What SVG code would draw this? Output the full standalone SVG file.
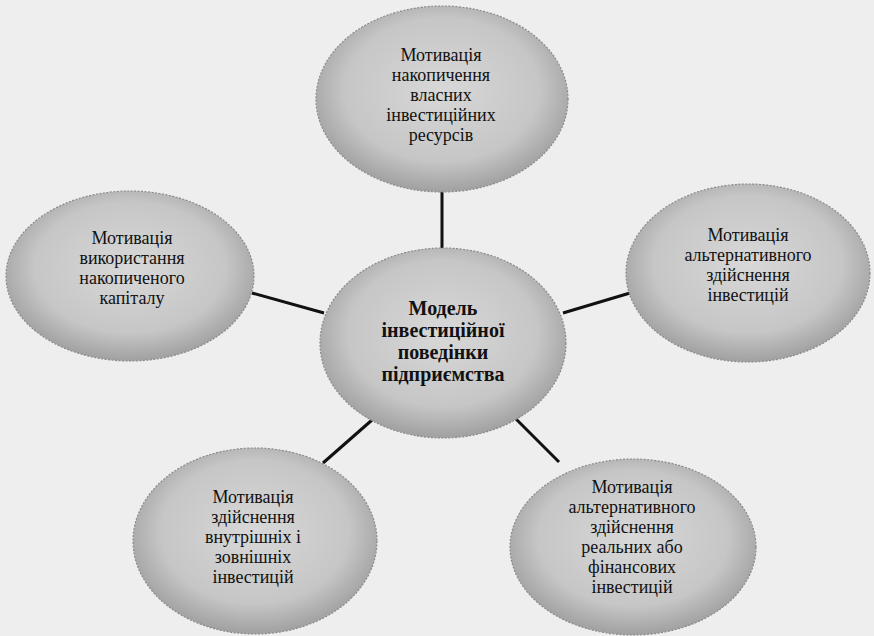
<svg xmlns="http://www.w3.org/2000/svg" width="874" height="636" viewBox="0 0 874 636">
<defs>
<radialGradient id="g" cx="50%" cy="45%" r="55%">
<stop offset="0" stop-color="#d8d8d8"/>
<stop offset="0.7" stop-color="#c6c6c6"/>
<stop offset="1" stop-color="#a0a0a0"/>
</radialGradient>
<style>
.e{fill:url(#g);stroke:#8a8a8a;stroke-width:1.2;stroke-dasharray:2 1.5}
.t{font-family:"Liberation Serif","Times New Roman",serif;font-size:18px;fill:#111;text-anchor:middle}
.b{font-weight:bold;font-size:20px}
.c{stroke:#111;stroke-width:3;fill:none}
</style>
</defs>
<rect width="874" height="636" fill="#eeeeee"/>
<g id="connectors">
<line class="c" x1="442" y1="190" x2="442" y2="250"/>
<line class="c" x1="252" y1="293" x2="324" y2="313"/>
<line class="c" x1="563" y1="313" x2="630" y2="293"/>
<line class="c" x1="372" y1="420" x2="323" y2="463"/>
<line class="c" x1="515" y1="418" x2="559" y2="462"/>
</g>
<g id="n-top">
<ellipse class="e" cx="442" cy="99" rx="126" ry="93"/>
<text class="t"><tspan x="441" y="61">Мотивація</tspan><tspan x="441" y="81">накопичення</tspan><tspan x="441" y="101">власних</tspan><tspan x="441" y="121">інвестиційних</tspan><tspan x="441" y="141">ресурсів</tspan></text>
</g>
<g id="n-left">
<ellipse class="e" cx="130" cy="276" rx="124" ry="85"/>
<text class="t"><tspan x="132" y="244">Мотивація</tspan><tspan x="132" y="264">використання</tspan><tspan x="132" y="284">накопиченого</tspan><tspan x="132" y="304">капіталу</tspan></text>
</g>
<g id="n-right">
<ellipse class="e" cx="748" cy="273" rx="122" ry="89"/>
<text class="t"><tspan x="748" y="241">Мотивація</tspan><tspan x="748" y="261">альтернативного</tspan><tspan x="748" y="281">здійснення</tspan><tspan x="748" y="301">інвестицій</tspan></text>
</g>
<g id="n-center">
<ellipse class="e" cx="443" cy="343" rx="123" ry="95"/>
<text class="t b"><tspan x="443" y="315">Модель</tspan><tspan x="443" y="337">інвестиційної</tspan><tspan x="443" y="359">поведінки</tspan><tspan x="443" y="381">підприємства</tspan></text>
</g>
<g id="n-bottom-left">
<ellipse class="e" cx="255" cy="541" rx="122" ry="93"/>
<text class="t"><tspan x="253" y="503">Мотивація</tspan><tspan x="253" y="523">здійснення</tspan><tspan x="253" y="543">внутрішніх і</tspan><tspan x="253" y="563">зовнішніх</tspan><tspan x="253" y="583">інвестицій</tspan></text>
</g>
<g id="n-bottom-right">
<ellipse class="e" cx="633" cy="547" rx="123" ry="88"/>
<text class="t"><tspan x="632" y="493">Мотивація</tspan><tspan x="632" y="513">альтернативного</tspan><tspan x="632" y="533">здійснення</tspan><tspan x="632" y="553">реальних або</tspan><tspan x="632" y="573">фінансових</tspan><tspan x="632" y="593">інвестицій</tspan></text>
</g>
</svg>
